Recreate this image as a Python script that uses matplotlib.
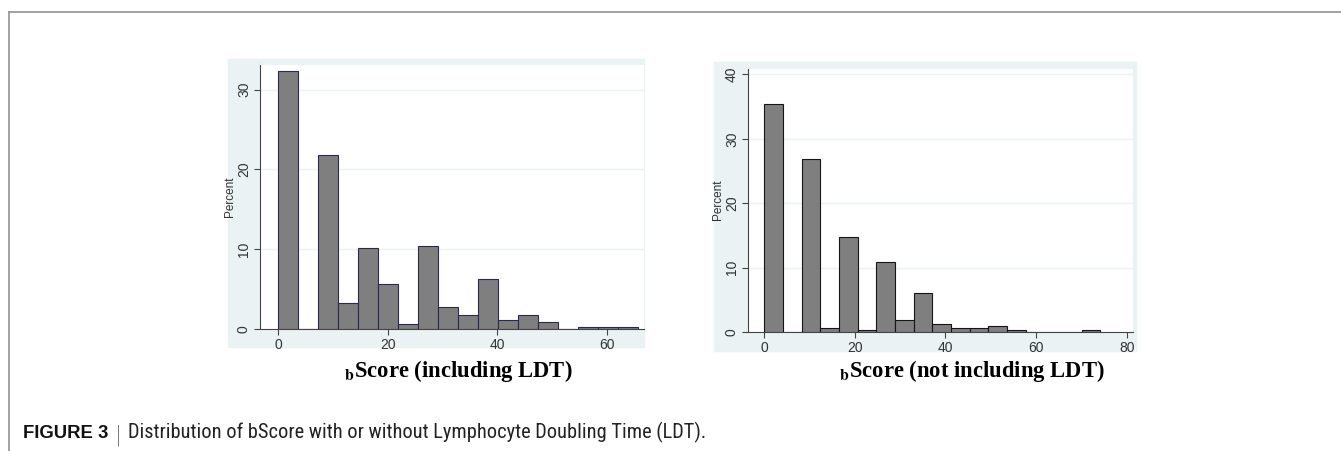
import matplotlib.pyplot as plt
from matplotlib import font_manager
from matplotlib.patches import Rectangle
from matplotlib.lines import Line2D

plt.rcParams['mathtext.fontset'] = 'stix'

W, H = 1341, 451

# bScore histograms (percent per bin), 18 bins each
incl_width = 3.655
incl_pct = [32.3, 0, 21.8, 3.3, 10.2, 5.7, 0.63, 10.4, 2.7,
            1.8, 6.3, 1.17, 1.8, 0.88, 0, 0.3, 0.3, 0.3]

excl_width = 4.12
excl_pct = [35.4, 0, 26.8, 0.62, 14.7, 0.26, 10.85, 1.86, 6.0,
            1.24, 0.62, 0.62, 0.93, 0.26, 0, 0, 0, 0.26]

incl_xticks = [0, 20, 40, 60]
incl_yticks = [0, 10, 20, 30]
excl_xticks = [0, 20, 40, 60, 80]
excl_yticks = [0, 10, 20, 30, 40]

titles = [r'$_{\mathbf{b}}$Score (including LDT)', r'$_{\mathbf{b}}$Score (not including LDT)']
caption_bold = 'FIGURE 3'
caption_text = 'Distribution of bScore with or without Lymphocyte Doubling Time (LDT).'

BG = '#eaf2f3'

# caption font in the journal is a condensed sans; use one if present
names = {f.name for f in font_manager.fontManager.ttflist}
narrow = next((n for n in ['Liberation Sans Narrow', 'Roboto Condensed',
                           'Open Sans Condensed', 'Noto Sans Condensed']
               if n in names), 'Liberation Sans')


def box(x0, y0, x1, y1):
    # pixel box (top-left origin) -> figure fraction rect
    return [x0 / W, 1 - y1 / H, (x1 - x0) / W, (y1 - y0) / H]


fig = plt.figure(figsize=(W / 100, H / 100), dpi=100)

# outer light frame of the figure
fig.add_artist(Line2D([9 / W, 1], [1 - 12 / H, 1 - 12 / H], color='#9a9a9a', lw=1.3))
fig.add_artist(Line2D([9 / W, 9 / W], [0, 1 - 12 / H], color='#9a9a9a', lw=1.3))

# stata-like graph regions
fig.add_artist(Rectangle((228 / W, 1 - 347 / H), 416 / W, 288 / H,
                         transform=fig.transFigure, color=BG, zorder=0))
fig.add_artist(Rectangle((714 / W, 1 - 351 / H), 422 / W, 289 / H,
                         transform=fig.transFigure, color=BG, zorder=0))


def hist_panel(rect, widths, pct, xticks, yticks, xlim, ylim, edge):
    ax = fig.add_axes(rect)
    lefts = [i * widths for i in range(len(pct))]
    ax.bar(lefts, pct, width=widths, align='edge', color='#7f7f7f',
           edgecolor=edge, linewidth=0.8, zorder=3)
    ax.set_xlim(*xlim)
    ax.set_ylim(*ylim)
    ax.set_xticks(xticks)
    ax.set_yticks(yticks)
    for y in yticks[1:]:
        ax.axhline(y, color=BG, lw=1.0, zorder=1)
    for s in ['top', 'right']:
        ax.spines[s].set_color(BG)
    for s in ['left', 'bottom']:
        ax.spines[s].set_color('#444444')
        ax.spines[s].set_linewidth(0.8)
    ax.tick_params(length=4, width=0.8, color='#444444', labelsize=10,
                   labelcolor='#333333', pad=2.5)
    ax.tick_params(axis='y', labelrotation=90)
    for lab in ax.get_yticklabels():
        lab.set_va('center')
    for lab in ax.get_xticklabels() + ax.get_yticklabels():
        lab.set_fontfamily('Liberation Sans')
    ax.set_ylabel('Percent', fontsize=8.5, color='#333333',
                  fontfamily='Liberation Sans', labelpad=1)
    return ax


ax1 = hist_panel(box(260, 64, 644, 329), incl_width, incl_pct, incl_xticks,
                 incl_yticks, (-3.35, 66.8), (0, 33.2), '#2a2a50')
ax2 = hist_panel(box(748, 68, 1133, 332), excl_width, excl_pct, excl_xticks,
                 excl_yticks, (-3.6, 81.4), (0, 41.0), '#151515')

fig.text(458 / W, 1 - 377 / H, titles[0], ha='center', va='baseline',
         fontsize=16.3, fontweight='bold', fontfamily='Liberation Serif')
fig.text(972 / W, 1 - 377 / H, titles[1], ha='center', va='baseline',
         fontsize=16.3, fontweight='bold', fontfamily='Liberation Serif')

renderer = fig.canvas.get_renderer()


def fit_text(x0, x1, y, s, family, **kw):
    # place text at pixel x0 and size it so it ends near pixel x1
    t = fig.text(x0 / W, 1 - y / H, s, ha='left', va='baseline',
                 fontsize=12, fontfamily=family, **kw)
    w = t.get_window_extent(renderer).width
    t.set_fontsize(12 * (x1 - x0) / w)
    return t


fit_text(23, 108, 438, caption_bold, 'Liberation Sans', fontweight='bold',
         color='#111111')
fig.text(115 / W, 1 - 440 / H, '|', ha='left', va='baseline', fontsize=15,
         color='#777777', fontfamily='DejaVu Sans', fontweight='light')
fit_text(128, 705, 438, caption_text, narrow, color='#222222')

fig.savefig('out.png', dpi=100)
